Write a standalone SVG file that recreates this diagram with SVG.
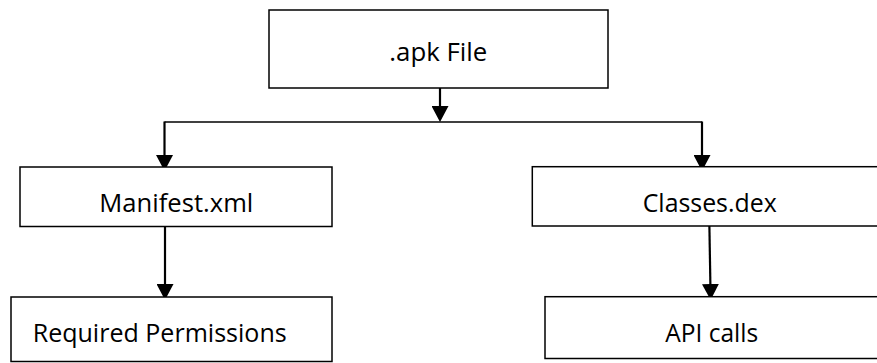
<svg xmlns="http://www.w3.org/2000/svg" width="877" height="363" viewBox="0 0 877 363">
  <style>
    .box { fill: #ffffff; stroke: #000000; stroke-width: 1.5; }
    .label { font-family: "Open Sans", "Liberation Sans", sans-serif; font-size: 25px; fill: #000000; text-anchor: middle; }
    .wire { fill: none; stroke: #000000; stroke-width: 2.2; }
    .bus { fill: none; stroke: #000000; stroke-width: 1.7; }
  </style>
  <defs>
    <marker id="head" markerUnits="userSpaceOnUse" viewBox="0 0 16 17" markerWidth="16" markerHeight="17" refX="13" refY="8.5" orient="auto">
      <path d="M0,0 L16,8.5 L0,17 Z" fill="#000000"/>
    </marker>
  </defs>

  <rect width="877" height="363" fill="#ffffff"/>

  <g id="connectors">
    <!-- .apk File down to the split bar -->
    <line class="wire" x1="440" y1="82" x2="440" y2="119" marker-end="url(#head)"/>
    <!-- split bar -->
    <line class="bus" x1="164.5" y1="122" x2="702" y2="122"/>
    <!-- drops to the two branches -->
    <line class="wire" x1="164.5" y1="121.5" x2="164.5" y2="168" marker-end="url(#head)"/>
    <line class="wire" x1="702" y1="121.5" x2="702" y2="168" marker-end="url(#head)"/>
    <!-- Manifest.xml to Required Permissions -->
    <line class="wire" x1="165" y1="220.5" x2="165" y2="297" marker-end="url(#head)"/>
    <!-- Classes.dex to API calls -->
    <line class="wire" x1="709.3" y1="220.5" x2="710.6" y2="297" marker-end="url(#head)"/>
  </g>

  <g id="apk-file">
    <rect class="box" x="269" y="10" width="339" height="78"/>
    <text class="label" x="438.3" y="60.5" textLength="98" lengthAdjust="spacingAndGlyphs">.apk File</text>
  </g>

  <g id="manifest-xml">
    <rect class="box" x="20" y="167" width="312" height="59.5"/>
    <text class="label" x="176.3" y="211.7" textLength="154" lengthAdjust="spacingAndGlyphs">Manifest.xml</text>
  </g>

  <g id="required-permissions">
    <rect class="box" x="11" y="297" width="321" height="64.5"/>
    <text class="label" x="159.7" y="342.3" textLength="254" lengthAdjust="spacingAndGlyphs">Required Permissions</text>
  </g>

  <g id="classes-dex">
    <rect class="box" x="532.3" y="166.7" width="360" height="59.3"/>
    <text class="label" x="709.7" y="212.3" textLength="134" lengthAdjust="spacingAndGlyphs">Classes.dex</text>
  </g>

  <g id="api-calls">
    <rect class="box" x="545" y="296.7" width="360" height="61.8"/>
    <text class="label" x="711.7" y="342.3" textLength="93" lengthAdjust="spacingAndGlyphs">API calls</text>
  </g>
</svg>
